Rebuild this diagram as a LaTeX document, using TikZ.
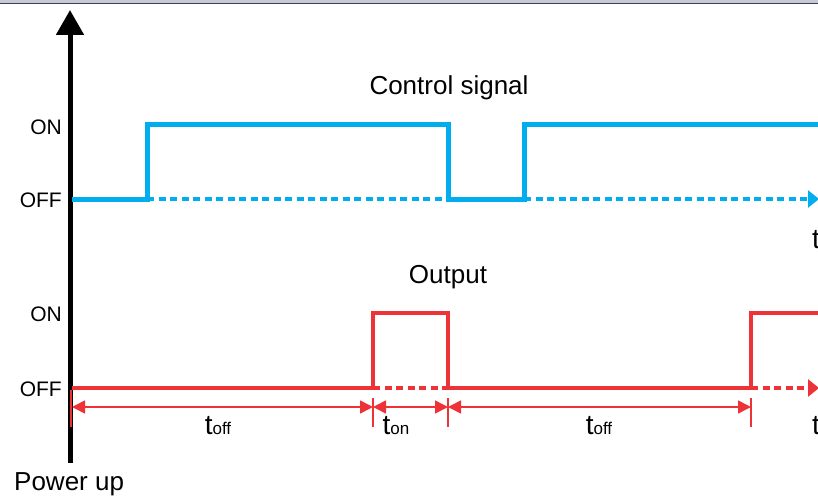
\documentclass[tikz,border=0pt]{standalone}
\usepackage{fontspec}
\setmainfont{Liberation Sans}
\usetikzlibrary{arrows.meta}
\definecolor{sigblue}{HTML}{00AEEF}
\definecolor{sigred}{HTML}{EE3338}
\definecolor{topgray}{HTML}{C9C9CF}
\definecolor{topline}{HTML}{3A3F6A}
\begin{document}
\begin{tikzpicture}[x=1pt,y=-1pt,
  lbl/.style={font=\fontsize{21}{22}\selectfont, anchor=east, inner sep=0pt},
  ttl/.style={font=\fontsize{26}{28}\selectfont, inner sep=0pt, anchor=base},
  bluesolid/.style={sigblue, line width=5pt, line join=miter},
  bluedash/.style={sigblue, line width=3.5pt, dash pattern=on 7pt off 4.5pt},
  redsolid/.style={sigred, line width=4.5pt, line join=miter},
  reddash/.style={sigred, line width=3.5pt, dash pattern=on 7pt off 4.5pt},
  endtip/.style={-{Triangle[length=11pt,width=17pt]}},
  dimline/.style={sigred, line width=1.6pt},
  dimarr/.style={sigred, line width=1.6pt, {Triangle[length=13pt,width=13pt]}-{Triangle[length=13pt,width=13pt]}},
  tlbl/.style={font=\fontsize{28}{30}\selectfont, inner sep=0pt, anchor=base}
]
\useasboundingbox (0,0) rectangle (818,495);
% top frame strip
\fill[topgray] (0,0) rectangle (818,3);
\draw[topline, line width=1pt] (0,3.5) -- (818,3.5);

% axis
\coordinate (ax0) at (70,463);
\coordinate (ax1) at (70,10);
\draw[line width=5pt, -{Triangle[length=25pt,width=27pt]}] (ax0) -- (ax1);

% labels
\node[lbl] (on1) at (62,127) {ON};
\node[lbl] (off1) at (62,200) {OFF};
\node[lbl] (on2) at (62,314) {ON};
\node[lbl] (off2) at (62,389) {OFF};
\node[ttl] (ctl) at (449,94) {Control signal};
\node[ttl] (outp) at (448,283) {Output};
\node[ttl, anchor=base west] (pwr) at (14,490) {Power up};

% control signal
\coordinate (b0) at (72,199);
\coordinate (b1) at (147,199);
\coordinate (b2) at (147,124);
\coordinate (b3) at (448,124);
\coordinate (b4) at (448,199);
\coordinate (b5) at (524,199);
\coordinate (b6) at (524,124);
\coordinate (b7) at (818,124);
\coordinate (b8) at (819,199);
\draw[bluesolid] (b0) -- (b1) -- (b2) -- (b3) -- (b4) -- (b5) -- (b6) -- (b7);
\draw[bluedash] (b1) -- (b4);
\draw[bluedash, endtip] (b5) -- (b8);
\node[tlbl, anchor=base west] (tb) at (812,248) {t};

% output signal
\coordinate (r0) at (72,388);
\coordinate (r1) at (373,388);
\coordinate (r2) at (373,313);
\coordinate (r3) at (448,313);
\coordinate (r4) at (448,388);
\coordinate (r5) at (751,388);
\coordinate (r6) at (751,313);
\coordinate (r7) at (818,313);
\coordinate (r8) at (819,388);
\draw[redsolid] (r0) -- (r1) -- (r2) -- (r3) -- (r4) -- (r5) -- (r6) -- (r7);
\draw[reddash] (r1) -- (r4);
\draw[reddash, endtip] (r5) -- (r8);

% dimension extension lines
\coordinate (e0a) at (71,390); \coordinate (e0b) at (71,427);
\coordinate (e1a) at (373,398); \coordinate (e1b) at (373,427);
\coordinate (e2a) at (448,398); \coordinate (e2b) at (448,427);
\coordinate (e3a) at (751,398); \coordinate (e3b) at (751,427);
\draw[dimline] (e0a) -- (e0b);
\draw[dimline] (e1a) -- (e1b);
\draw[dimline] (e2a) -- (e2b);
\draw[dimline] (e3a) -- (e3b);
% dimension arrows
\coordinate (d0) at (72,407);
\coordinate (d1) at (373,407);
\coordinate (d2) at (448,407);
\coordinate (d3) at (751,407);
\draw[dimarr] (d0) -- (d1);
\draw[dimarr] (d1) -- (d2);
\draw[dimarr] (d2) -- (d3);

\node[tlbl] (toff1) at (218,434) {t\fontsize{17}{18}\selectfont off};
\node[tlbl] (ton) at (396,434) {t\fontsize{17}{18}\selectfont on};
\node[tlbl] (toff2) at (599,434) {t\fontsize{17}{18}\selectfont off};
\node[tlbl, anchor=base west] (tr) at (812,434) {t};
\end{tikzpicture}
\end{document}
